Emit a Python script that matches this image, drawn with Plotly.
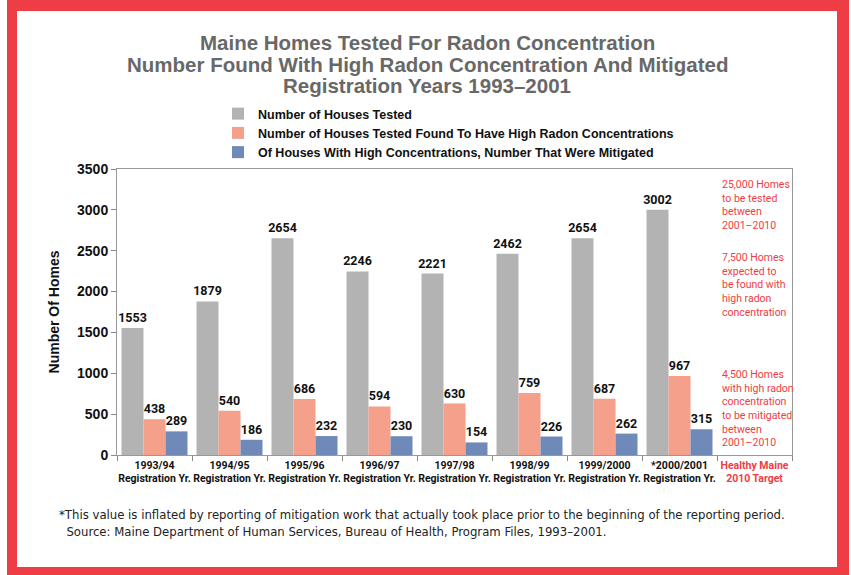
import plotly.graph_objects as go

# ---- data ----
categories = ["1993/94", "1994/95", "1995/96", "1996/97", "1997/98",
              "1998/99", "1999/2000", "*2000/2001"]
target_label = "Healthy Maine 2010 Target"
tested = [1553, 1879, 2654, 2246, 2221, 2462, 2654, 3002]
high_radon = [438, 540, 686, 594, 630, 759, 687, 967]
mitigated = [289, 186, 232, 230, 154, 226, 262, 315]

series_names = [
    "Number of Houses Tested",
    "Number of Houses Tested Found To Have High Radon Concentrations",
    "Of Houses With High Concentrations, Number That Were Mitigated",
]
series_colors = ["#B3B3B3", "#F4A08B", "#6F89B9"]

title_lines = [
    "Maine Homes Tested For Radon Concentration",
    "Number Found With High Radon Concentration And Mitigated",
    "Registration Years 1993–2001",
]

target_notes = [
    "25,000 Homes<br>to be tested<br>between<br>2001–2010",
    "7,500 Homes<br>expected to<br>be found with<br>high radon<br>concentration",
    "4,500 Homes<br>with high radon<br>concentration<br>to be mitigated<br>between<br>2001–2010",
]

RED = "#EE3D45"
NARROW = "Roboto, sans-serif"
CONDENSED = "DejaVu Sans Condensed, Roboto, sans-serif"
SANS = "Liberation Sans, Arial, sans-serif"

# ---- page geometry (pixels) ----
W, H = 851, 575
L, R, T, B = 117, 792, 169, 455


def px(x):
    return (x - L) / (R - L)


def py(y):
    return (B - y) / (B - T)


all_cats = categories + [target_label]

fig = go.Figure()
for name, vals, col in zip(series_names, [tested, high_radon, mitigated], series_colors):
    fig.add_trace(go.Bar(
        x=categories, y=vals, name=name,
        marker=dict(color=col, line=dict(width=0)),
        text=[str(v) for v in vals], textposition="outside",
        constraintext="none",
        textfont=dict(family=NARROW, size=12.5, color="#111111", weight="bold"),
        cliponaxis=False,
    ))

ticktext = [f"{c}<br>Registration Yr." for c in categories]
ticktext.append(f"<span style='color:{RED}'>Healthy Maine<br>2010 Target</span>")

fig.update_layout(
    width=W, height=H,
    margin=dict(l=L, r=W - R, t=T, b=H - B, pad=0),
    paper_bgcolor="white", plot_bgcolor="white",
    barmode="group", bargap=0.12, bargroupgap=0,
    showlegend=True,
    legend=dict(
        x=px(218), y=py(99), xanchor="left", yanchor="top",
        font=dict(family=SANS, size=12.5, color="#111111", weight="bold"),
        bgcolor="rgba(0,0,0,0)", tracegroupgap=0, itemwidth=30,
        traceorder="normal",
    ),
    xaxis=dict(
        type="category", categoryorder="array", categoryarray=all_cats,
        tickvals=all_cats, ticktext=ticktext, range=[-0.5, 8.5],
        tickson="boundaries", ticks="outside", ticklen=5, tickcolor="#888888",
        tickangle=0,
        showline=True, linecolor="#999999", linewidth=1, mirror=True,
        showgrid=False,
        tickfont=dict(family=NARROW, size=10.5, color="#111111", weight="bold"),
    ),
    yaxis=dict(
        range=[0, 3500], dtick=500, tickformat="d",
        ticks="outside", ticklen=5, tickcolor="#888888",
        showline=True, linecolor="#999999", linewidth=1, mirror=True,
        showgrid=False, zeroline=False,
        tickfont=dict(family=SANS, size=14, color="#111111", weight="bold"),
        title=dict(text="Number Of Homes", standoff=14,
                   font=dict(family=SANS, size=14, color="#111111", weight="bold")),
    ),
)

# title block, one annotation per line
for line, yc in zip(title_lines, [42.5, 64, 85.5]):
    fig.add_annotation(
        xref="paper", yref="paper", x=px(427), y=py(yc), xanchor="center", yanchor="middle",
        text=f"<b>{line}</b>", showarrow=False,
        font=dict(family=SANS, size=20.5, color="#686868"),
    )

# target notes in the last column
for note, top in zip(target_notes, [176, 249, 366]):
    fig.add_annotation(
        xref="paper", yref="paper", x=px(720), y=py(top), xanchor="left", yanchor="top",
        text=note, showarrow=False, align="left",
        font=dict(family=NARROW, size=10.5, color=RED),
    )

# footnote
fig.add_annotation(
    xref="paper", yref="paper", x=px(57), y=py(505), xanchor="left", yanchor="top",
    text="*This value is inflated by reporting of mitigation work that actually took place prior to the beginning of the reporting period.<br>"
         "  Source: Maine Department of Human Services, Bureau of Health, Program Files, 1993–2001.",
    showarrow=False, align="left",
    font=dict(family=CONDENSED, size=13, color="#222222"),
)

# red page frame
frame = [(7, 0, 849, 11), (7, 567, 849, 575), (7, 0, 17, 575), (837, 0, 849, 575)]
for x0, y0, x1, y1 in frame:
    fig.add_shape(type="rect", xref="paper", yref="paper",
                  x0=px(x0), x1=px(x1), y0=py(y1), y1=py(y0),
                  fillcolor=RED, line=dict(width=0), layer="below")

fig.write_html("out.html")
